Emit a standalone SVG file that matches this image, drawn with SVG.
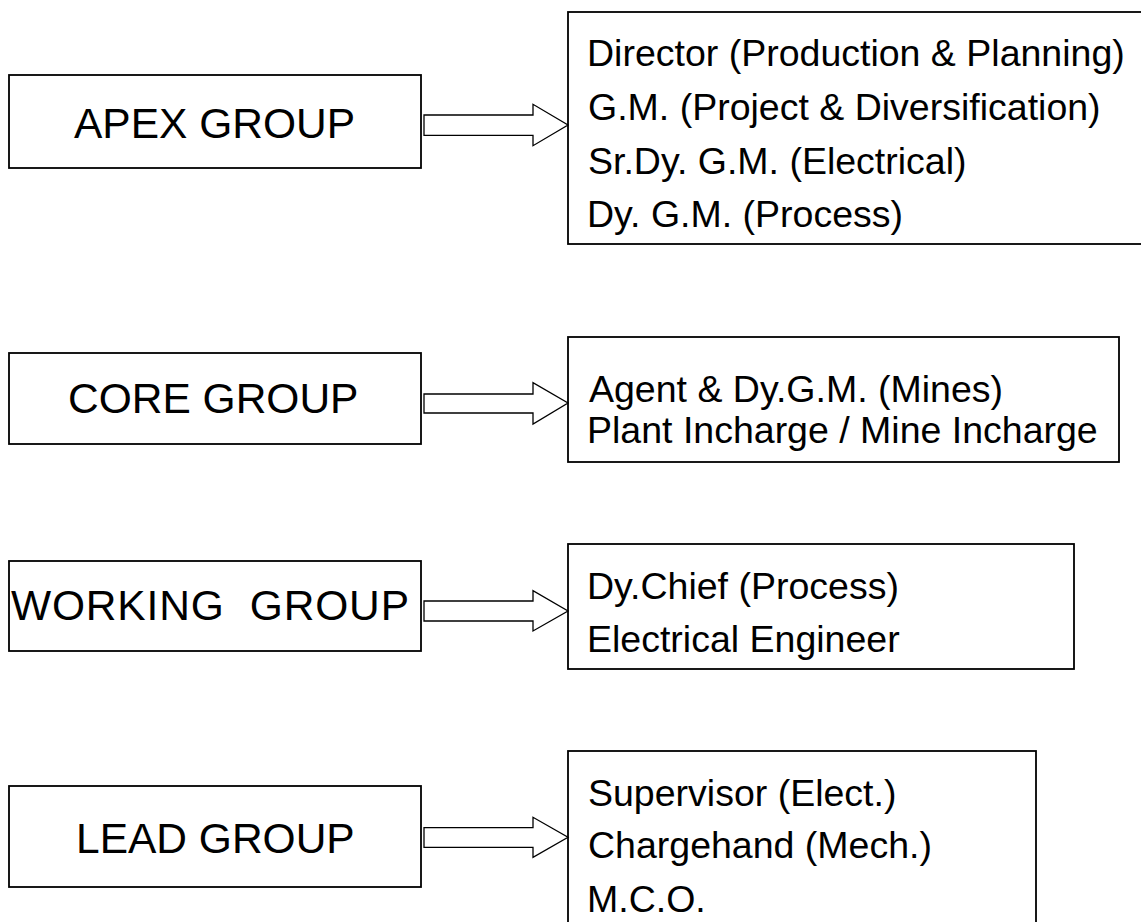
<svg xmlns="http://www.w3.org/2000/svg" width="1141" height="922" viewBox="0 0 1141 922">
<style>
.box{fill:#fff;stroke:#000;stroke-width:1.8}
.arr{fill:#fff;stroke:#000;stroke-width:1.3;stroke-linejoin:miter}
.lt{font-family:"Liberation Sans",Arial,sans-serif;font-size:42.5px;fill:#000}
.rt{font-family:"Liberation Sans",Arial,sans-serif;font-size:37.5px;fill:#000}
</style>
<rect width="1141" height="922" fill="#fff"/>
<g id="apex">
<rect class="box" x="9" y="75" width="412" height="93"/>
<text class="lt" x="74" y="138">APEX GROUP</text>
</g>
<g id="apex-members">
<rect class="box" x="568" y="12" width="600" height="232"/>
<text class="rt" x="587" y="66">Director (Production &amp; Planning)</text>
<text class="rt" x="588" y="120">G.M. (Project &amp; Diversification)</text>
<text class="rt" x="588" y="174">Sr.Dy. G.M. (Electrical)</text>
<text class="rt" x="587" y="227">Dy. G.M. (Process)</text>
</g>
<g id="core">
<rect class="box" x="9" y="353" width="412" height="91"/>
<text class="lt" x="68" y="413">CORE GROUP</text>
</g>
<g id="core-members">
<rect class="box" x="568" y="337" width="551" height="125"/>
<text class="rt" x="589" y="402">Agent &amp; Dy.G.M. (Mines)</text>
<text class="rt" x="587" y="443">Plant Incharge / Mine Incharge</text>
</g>
<g id="working">
<rect class="box" x="9" y="561" width="412" height="90"/>
<text class="lt" x="11" y="620" textLength="398" lengthAdjust="spacing" xml:space="preserve">WORKING  GROUP</text>
</g>
<g id="working-members">
<rect class="box" x="568" y="544" width="506" height="125"/>
<text class="rt" x="587" y="599">Dy.Chief (Process)</text>
<text class="rt" x="587" y="652">Electrical Engineer</text>
</g>
<g id="lead">
<rect class="box" x="9" y="786" width="412" height="101"/>
<text class="lt" x="76" y="853">LEAD GROUP</text>
</g>
<g id="lead-members">
<rect class="box" x="568" y="751" width="468" height="200"/>
<text class="rt" x="588" y="806">Supervisor (Elect.)</text>
<text class="rt" x="588" y="858">Chargehand (Mech.)</text>
<text class="rt" x="587" y="912">M.C.O.</text>
</g>
<g id="connectors">
<polygon class="arr" points="424,115 533,115 533,104.3 568,125 533,145.7 533,135.3 424,135.3"/>
<polygon class="arr" points="424,394 533,394 533,382.7 568,403 533,424 533,413 424,413"/>
<polygon class="arr" points="424,601 533,601 533,590.7 568,611 533,631 533,621 424,621"/>
<polygon class="arr" points="424,827.7 533,827.7 533,817.3 568,837.3 533,857.3 533,847.3 424,847.3"/>
</g>
</svg>
